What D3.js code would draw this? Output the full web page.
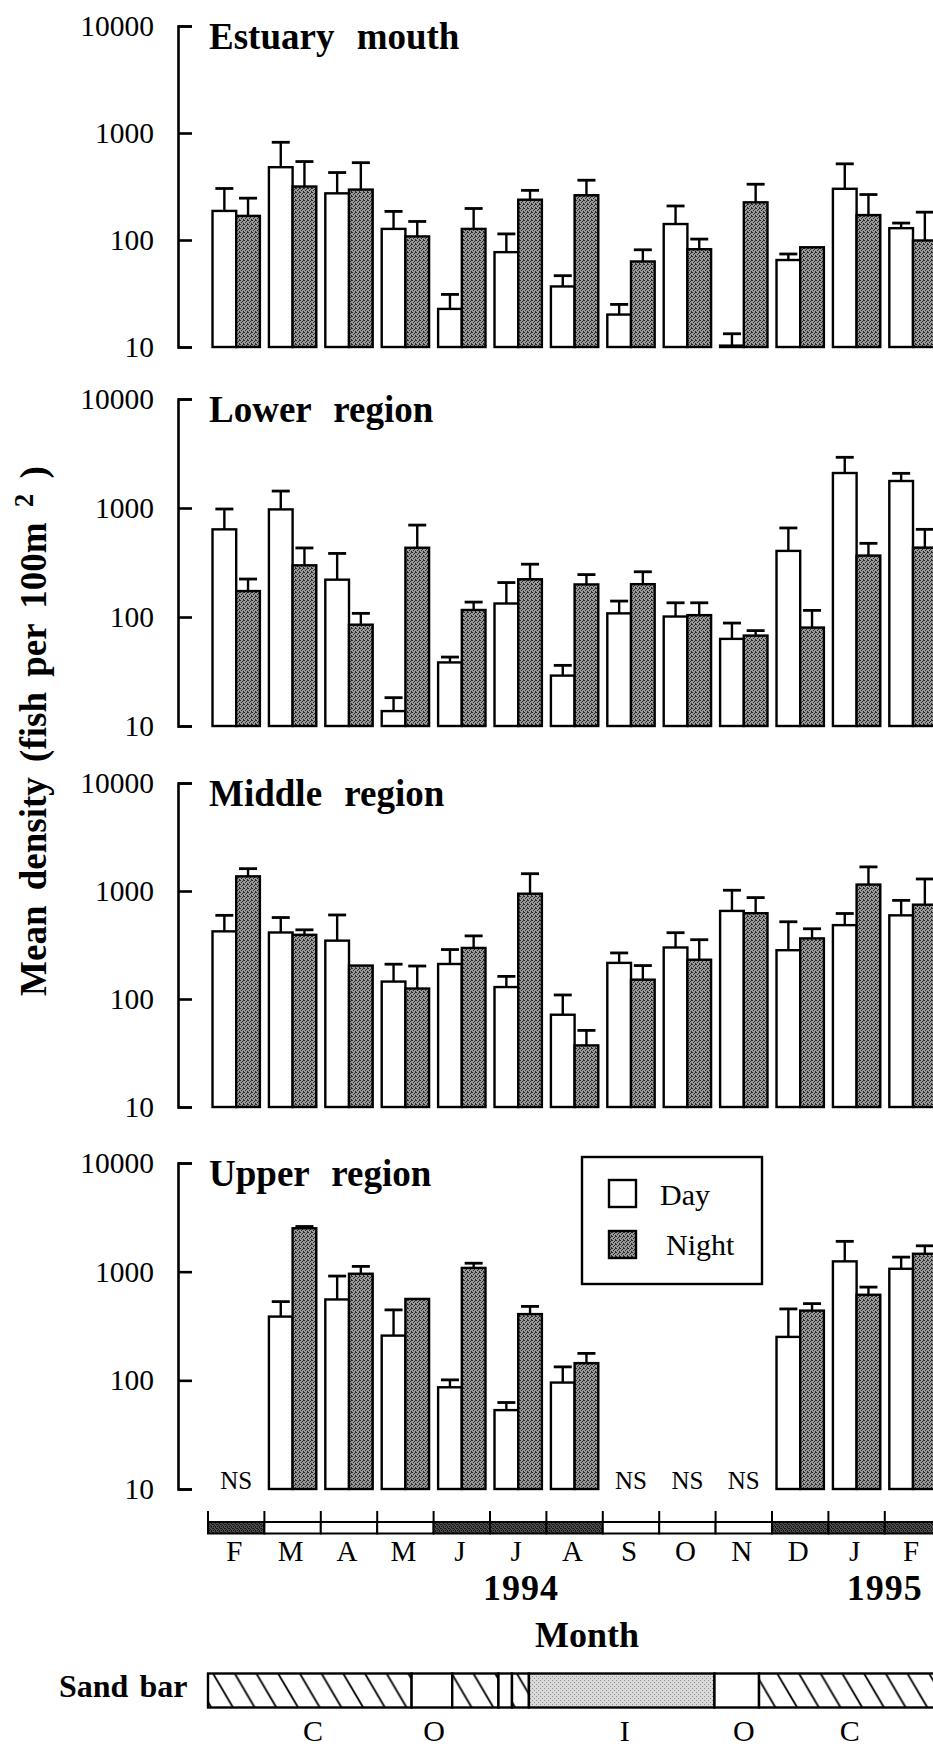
<!DOCTYPE html>
<html><head><meta charset="utf-8">
<script src="https://cdn.jsdelivr.net/npm/d3@7"></script>
<style>
body{margin:0;background:#fff}
svg{display:block}
text{font-family:"Liberation Serif","Times New Roman",serif;fill:#000}
</style>
</head><body>
<svg id="c" width="933" height="1746"></svg>
<script>
// ---------- data ----------
const months = ["F","M","A","M","J","J","A","S","O","N","D","J","F"];
const regionNames = ["Estuary mouth","Lower region","Middle region","Upper region"];
const yTickValues = [10,100,1000,10000];
const darkMonths = [1,0,0,0,1,1,1,0,0,0,1,1,1];          // season strip (1 = shaded)
const yearLabels = [["1994",5.55],["1995",12.0]];         // [label, month position]

// mean density and mean + SE (fish per 100 m2); null = not sampled
const estuaryDay     = [187,479,273,127,22.7,77,36.8,20.1,141,10.3,65,301,129];
const estuaryDayUp   = [303,819,427,185,31,114,46.4,25,208,13.3,74,515,144];
const estuaryNight   = [168,316,296,108,127,238,262,63,82,225,85.5,171,99];
const estuaryNightUp = [246,541,528,149,197,291,362,81,102,332,null,266,182];

const lowerDay     = [637,971,220,13.7,38.3,133,29,108,101,63,404,2094,1769];
const lowerDayUp   = [979,1430,383,18.2,42.9,207,36,140,135,88,656,2918,2080];
const lowerNight   = [173,298,85,432,116,222,199,200,104,67.5,80,366,433];
const lowerNightUp = [223,430,108,697,137,305,245,260,135,75,115,474,637];

const middleDay     = [423,413,347,145,211,129,71.5,216,300,654,283,483,595];
const middleDayUp   = [595,568,600,210,287,162,109,267,411,1016,519,619,819];
const middleNight   = [1367,393,204,125,297,944,37.2,151,231,623,364,1147,747];
const middleNightUp = [1610,437,null,202,384,1446,51.2,204,354,869,447,1672,1292];

const upperDay     = [null,386,555,258,86.3,53.2,95.4,null,null,null,251,1244,1063];
const upperDayUp   = [null,530,911,445,101,62.5,133,null,null,null,454,1901,1361];
const upperNight   = [null,2510,957,561,1083,407,144,null,null,null,438,613,1461];
const upperNightUp = [null,2604,1118,null,1196,479,177,null,null,null,508,721,1730];

// sand bar state: [state, start month, end month]  C closed, O open, I intermediate
const sandBar = [["C",0,3.61],["O",3.61,4.33],["C",4.33,5.15],["O",5.15,5.39],["C",5.39,5.69],["I",5.69,8.98],["O",8.98,9.77],["C",9.77,13.6]];
const sandLabels = [["C",1.86],["O",4.01],["I",7.39],["O",9.5],["C",11.38]];

const legendItems = ["Day","Night"];

// ---------- layout ----------
const svg = d3.select("#c");
const defs = svg.append("defs");

function stipple(id, bg, dark, dots){
  const p = defs.append("pattern").attr("id",id).attr("patternUnits","userSpaceOnUse")
    .attr("width",4).attr("height",4);
  p.append("rect").attr("width",4).attr("height",4).attr("fill",bg);
  dots.forEach(d=>p.append("rect").attr("x",d[0]).attr("y",d[1]).attr("width",1).attr("height",1).attr("fill",dark));
}
stipple("nightFill","#9a9a9a","#262626",[[0,0],[2,1],[1,2],[3,3],[3,0]]);
stipple("stripFill","#4e4e4e","#141414",[[0,0],[2,1],[1,2],[3,3],[1,0],[3,2]]);
stipple("lightFill","#dadada","#8a8a8a",[[0,0],[2,2]]);

const sandY = 1673.5, sandH = 34;
const hatch = defs.append("pattern").attr("id","hatch").attr("patternUnits","userSpaceOnUse")
  .attr("width",21.7).attr("height",sandH).attr("y",sandY).attr("x",213);
hatch.append("rect").attr("width",21.7).attr("height",sandH).attr("fill","#fff");
[-21.7,0,21.7].forEach(o=>hatch.append("line").attr("x1",o).attr("y1",0).attr("x2",o+20).attr("y2",sandH)
  .attr("stroke","#000").attr("stroke-width",1.8));

const monthPos = d3.scaleLinear().domain([0,13]).range([208, 208+13*56.4]);
const x = d3.scaleBand().domain(d3.range(months.length)).range(monthPos.range())
  .paddingInner(0.16).paddingOuter(0.08);
const xs = d3.scaleBand().domain(["day","night"]).range([0,x.bandwidth()]);

const panelTop = [26,399,783,1163];
const panelBottom = [347,726,1107,1489];
const axisX = 178;

const panels = [
  [estuaryDay,estuaryDayUp,estuaryNight,estuaryNightUp],
  [lowerDay,lowerDayUp,lowerNight,lowerNightUp],
  [middleDay,middleDayUp,middleNight,middleNightUp],
  [upperDay,upperDayUp,upperNight,upperNightUp]
];

panels.forEach((p,k)=>{
  const y = d3.scaleLog().domain([10,10000]).range([panelBottom[k],panelTop[k]]);
  const g = svg.append("g");

  const ax = g.append("g").attr("transform",`translate(${axisX},0)`)
    .call(d3.axisLeft(y).tickValues(yTickValues).tickSizeInner(-14).tickSizeOuter(-14)
      .tickPadding(24).tickFormat(d3.format("d")));
  ax.select(".domain").attr("stroke","#000").attr("stroke-width",2.6);
  ax.selectAll(".tick line").attr("stroke","#000").attr("stroke-width",2.6);
  ax.selectAll(".tick text").attr("font-size",29.5).attr("font-family","Liberation Serif, serif").attr("fill","#000");

  g.append("text").attr("x",209).attr("y",panelTop[k]+23)
    .attr("font-size",37).attr("font-weight","bold").attr("word-spacing",13)
    .text(regionNames[k]);

  const series = [["day",p[0],p[1],"#fff"],["night",p[2],p[3],"url(#nightFill)"]];
  months.forEach((m,i)=>{
    if(p[0][i]==null && p[2][i]==null){
      g.append("text").attr("x",x(i)+x.bandwidth()/2).attr("y",y(10)).attr("text-anchor","middle")
        .attr("font-size",25).text("NS");
      return;
    }
    series.forEach(([s,vals,ups,fill])=>{
      const v = vals[i]; if(v==null) return;
      const bx = x(i)+xs(s), bw = xs.bandwidth(), cx = bx+bw/2;
      const u = ups[i];
      if(u!=null){
        g.append("line").attr("x1",cx).attr("x2",cx).attr("y1",y(v)).attr("y2",y(u))
          .attr("stroke","#000").attr("stroke-width",2.4);
        g.append("line").attr("x1",cx-9).attr("x2",cx+9).attr("y1",y(u)).attr("y2",y(u))
          .attr("stroke","#000").attr("stroke-width",2.8);
      }
      g.append("rect").attr("x",bx).attr("y",y(v)).attr("width",bw)
        .attr("height",Math.max(0,y(10)-y(v))).attr("fill",fill)
        .attr("stroke","#000").attr("stroke-width",2.4);
    });
  });
});

// legend
const lg = svg.append("g");
lg.append("rect").attr("x",582).attr("y",1157).attr("width",180).attr("height",127)
  .attr("fill","#fff").attr("stroke","#000").attr("stroke-width",2.4);
legendItems.forEach((t,i)=>{
  lg.append("rect").attr("x",609).attr("y",1180+i*51).attr("width",27).attr("height",27)
    .attr("fill",i===0?"#fff":"url(#nightFill)").attr("stroke","#000").attr("stroke-width",2.4);
  lg.append("text").attr("x",i===0?660:666).attr("y",1205+i*50).attr("font-size",30).text(t);
});

// month / season strip
const stripY = 1522, stripH = 11.5;
const sg = svg.append("g");
months.forEach((m,i)=>{
  sg.append("rect").attr("x",monthPos(i)).attr("y",stripY).attr("width",monthPos(i+1)-monthPos(i))
    .attr("height",stripH).attr("fill",darkMonths[i]?"url(#stripFill)":"#fff")
    .attr("stroke","#000").attr("stroke-width",2);
});
d3.range(months.length+1).forEach(i=>{
  sg.append("line").attr("x1",monthPos(i)).attr("x2",monthPos(i)).attr("y1",1511).attr("y2",stripY)
    .attr("stroke","#000").attr("stroke-width",2);
});
months.forEach((m,i)=>{
  sg.append("text").attr("x",x(i)+x.bandwidth()/2-2).attr("y",1561).attr("text-anchor","middle")
    .attr("font-size",29).text(m);
});
yearLabels.forEach(([t,pos])=>{
  sg.append("text").attr("x",monthPos(pos)).attr("y",1600).attr("text-anchor","middle")
    .attr("font-size",36).attr("font-weight","bold").attr("letter-spacing",1).text(t);
});
svg.append("text").attr("x",587).attr("y",1647).attr("text-anchor","middle")
  .attr("font-size",36).attr("font-weight","bold").text("Month");

// sand bar
svg.append("text").attr("x",59).attr("y",1697).attr("font-size",32).attr("font-weight","bold")
  .attr("word-spacing",3).text("Sand bar");
const fills = {C:"url(#hatch)",O:"#fff",I:"url(#lightFill)"};
sandBar.forEach(([s,a,b])=>{
  svg.append("rect").attr("x",monthPos(a)).attr("y",sandY).attr("width",monthPos(b)-monthPos(a))
    .attr("height",sandH).attr("fill",fills[s]).attr("stroke","#000").attr("stroke-width",2.4);
});
sandLabels.forEach(([t,pos])=>{
  svg.append("text").attr("x",monthPos(pos)).attr("y",1741).attr("text-anchor","middle")
    .attr("font-size",30).text(t);
});

// y-axis title
const yt = svg.append("text").attr("transform","translate(46,731) rotate(-90)")
  .attr("text-anchor","middle").attr("font-size",37).attr("font-weight","bold")
  .attr("word-spacing",6);
yt.append("tspan").text("Mean density (fish per 100m ");
yt.append("tspan").attr("dy",-13).attr("font-size",27).text("2");
yt.append("tspan").attr("dy",13).text(" )");
</script>
</body></html>
